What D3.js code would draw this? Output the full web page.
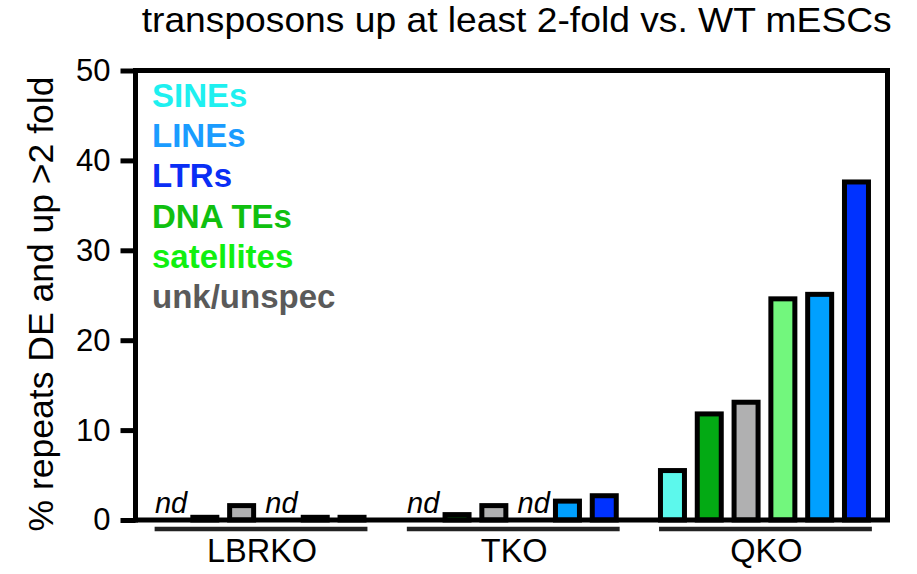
<!DOCTYPE html>
<html>
<head>
<meta charset="utf-8">
<script src="https://cdn.jsdelivr.net/npm/d3@7"></script>
<style>
  html, body { margin: 0; padding: 0; background: #fff; }
  svg { display: block; font-family: "Liberation Sans", Arial, Helvetica, sans-serif; }
</style>
</head>
<body>
<svg id="chart" width="917" height="574"></svg>
<script>
// ---- data ----
const groups = ["LBRKO", "TKO", "QKO"];
const types = ["SINEs", "DNA TEs", "unk/unspec", "satellites", "LINEs", "LTRs"];
const legendOrder = ["SINEs", "LINEs", "LTRs", "DNA TEs", "satellites", "unk/unspec"];
const valuesLBRKO = [null, 0.3, 1.6, null, 0.3, 0.3];
const valuesTKO = [null, 0.6, 1.6, null, 2.1, 2.7];
const valuesQKO = [5.5, 11.8, 13.1, 24.6, 25.1, 37.6];
const yTicks = [0, 10, 20, 30, 40, 50];
const titleText = "transposons up at least 2-fold vs. WT mESCs";
const yLabelText = "% repeats DE and up >2 fold";

const barFill = {
  "SINEs": "#5cf8ec", "DNA TEs": "#03aa14", "unk/unspec": "#b0b0b1",
  "satellites": "#72f77d", "LINEs": "#00a0ff", "LTRs": "#0032ff"
};
const textFill = {
  "SINEs": "#1ef0f0", "LINEs": "#1a9cff", "LTRs": "#0a2ef5",
  "DNA TEs": "#10c010", "satellites": "#10f010", "unk/unspec": "#5a5a5a"
};

const valuesByGroup = { LBRKO: valuesLBRKO, TKO: valuesTKO, QKO: valuesQKO };
const rows = [];
groups.forEach(g => types.forEach((t, i) => rows.push({ group: g, type: t, value: valuesByGroup[g][i] })));

// ---- layout ----
const svg = d3.select("#chart");
const pLeft = 135.5, pRight = 887.5, pTop = 70.5, pBottom = 520;

const y = d3.scaleLinear().domain([0, 50]).range([pBottom, pTop]);
const x0 = d3.scaleBand().domain(groups).range([pLeft, 889]).paddingInner(0.1245).paddingOuter(0.056);
const x1 = d3.scaleBand().domain(types).range([0, x0.bandwidth()]).paddingInner(0.348).paddingOuter(0.174);

// title
svg.append("text")
  .attr("x", 141.7).attr("y", 32)
  .attr("font-size", 35)
  .attr("textLength", 750).attr("lengthAdjust", "spacingAndGlyphs")
  .attr("fill", "#000")
  .text(titleText);

// y label
svg.append("text")
  .attr("transform", `translate(53,304) rotate(-90)`)
  .attr("text-anchor", "middle")
  .attr("font-size", 35.5)
  .attr("fill", "#000")
  .text(yLabelText);

// bars
const gBars = svg.append("g");
gBars.selectAll("rect")
  .data(rows.filter(d => d.value !== null))
  .join("rect")
  .attr("x", d => x0(d.group) + x1(d.type))
  .attr("width", x1.bandwidth())
  .attr("y", d => y(d.value))
  .attr("height", d => y(0) - y(d.value))
  .attr("fill", d => barFill[d.type])
  .attr("stroke", "#000")
  .attr("stroke-width", 5);

// nd labels
svg.append("g").selectAll("text")
  .data(rows.filter(d => d.value === null))
  .join("text")
  .attr("x", d => x0(d.group) + x1(d.type) + x1.bandwidth() / 2 + 3)
  .attr("y", 512.5)
  .attr("text-anchor", "middle")
  .attr("font-size", 29)
  .attr("font-style", "italic")
  .attr("fill", "#000")
  .text("nd");

// frame (top and right)
svg.append("path")
  .attr("d", `M${pLeft},${pTop}H${pRight}V${pBottom}`)
  .attr("fill", "none").attr("stroke", "#000").attr("stroke-width", 5);

// y axis
const yAxis = svg.append("g")
  .attr("transform", `translate(${pLeft},0)`)
  .call(d3.axisLeft(y).tickValues(yTicks).tickSize(15).tickPadding(10).tickSizeOuter(0));
yAxis.select(".domain").attr("stroke", "#000").attr("stroke-width", 5)
  .attr("d", `M0,${pTop - 2.5}V${pBottom + 2.5}`);
yAxis.selectAll(".tick line").attr("stroke", "#000").attr("stroke-width", 5);
yAxis.selectAll(".tick text")
  .attr("font-size", 31).attr("fill", "#000")
  .attr("font-family", "'Liberation Sans', Arial, sans-serif");

// x axis baseline
const xAxis = svg.append("g")
  .attr("transform", `translate(0,${pBottom})`)
  .call(d3.axisBottom(x0).tickSize(0).tickFormat(""));
xAxis.select(".domain").attr("stroke", "#000").attr("stroke-width", 5)
  .attr("d", `M${pLeft - 2.5},0H${pRight + 2.5}`);

// group underlines + labels
const gGroups = svg.append("g");
gGroups.selectAll("line")
  .data(groups)
  .join("line")
  .attr("x1", g => x0(g) + 5)
  .attr("x2", g => x0(g) + x0.bandwidth() - 3)
  .attr("y1", 529).attr("y2", 529)
  .attr("stroke", "#222").attr("stroke-width", 4.5);
gGroups.selectAll("text")
  .data(groups)
  .join("text")
  .attr("x", g => x0(g) + x0.bandwidth() / 2 + 2)
  .attr("y", 562)
  .attr("text-anchor", "middle")
  .attr("font-size", 32.5)
  .attr("fill", "#000")
  .text(g => g);

// legend
svg.append("g").selectAll("text")
  .data(legendOrder)
  .join("text")
  .attr("x", 152)
  .attr("y", (d, i) => 107 + i * 40.2)
  .attr("font-size", 33)
  .attr("font-weight", "bold")
  .attr("fill", d => textFill[d])
  .text(d => d);
</script>
</body>
</html>
